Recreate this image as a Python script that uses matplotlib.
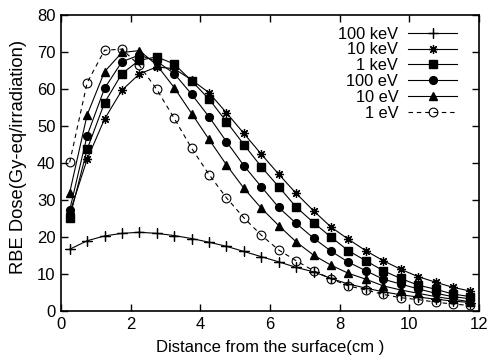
import numpy as np
import matplotlib
matplotlib.use("Agg")
import matplotlib.pyplot as plt

plt.rcParams['font.family'] = ['Liberation Sans', 'DejaVu Sans']

depth = np.arange(0.25, 12.0, 0.5)

kev100 = [16.7, 19.0, 20.3, 21.0, 21.3, 21.0, 20.4, 19.6, 18.6, 17.5, 16.1, 14.7,
          13.3, 11.8, 10.6, 8.8, 7.3, 6.2, 5.2, 4.4, 3.8, 3.2, 2.7, 2.3]
kev10 = [26.5, 41.0, 51.9, 59.7, 64.1, 66.0, 65.5, 62.5, 59.0, 53.6, 48.0, 42.4,
         37.0, 31.8, 27.1, 22.7, 19.4, 16.3, 13.6, 11.3, 9.3, 7.8, 6.4, 5.4]
kev1 = [25.2, 43.7, 56.3, 64.2, 67.8, 68.7, 66.8, 62.2, 57.3, 51.2, 45.0, 39.0,
        33.6, 28.1, 23.9, 20.0, 16.3, 13.6, 10.9, 8.8, 7.0, 5.9, 4.6, 3.9]
ev100 = [27.3, 47.4, 60.2, 67.4, 69.2, 67.5, 64.2, 58.6, 52.5, 45.8, 39.3, 33.6,
         28.0, 23.7, 19.7, 16.2, 13.2, 10.9, 8.6, 7.3, 6.0, 4.8, 3.9, 3.3]
ev10 = [32.0, 53.0, 64.7, 69.9, 70.4, 66.5, 60.4, 53.4, 46.4, 39.5, 33.2, 27.8,
        23.1, 18.7, 15.1, 12.4, 10.2, 8.6, 6.8, 5.7, 4.8, 3.9, 3.2, 2.5]
ev1 = [40.2, 61.7, 70.5, 70.8, 66.4, 59.9, 52.1, 44.0, 36.9, 30.6, 25.2, 20.5,
       16.5, 13.6, 10.9, 8.7, 6.8, 5.7, 4.5, 3.6, 3.1, 2.4, 1.9, 1.5]

fig = plt.figure(figsize=(4.89, 3.6), dpi=100)
ax = fig.add_axes([0.1247, 0.136, 0.855, 0.822])

lw = 0.8
ax.plot(depth, kev100, color='black', lw=lw, marker=(4, 2, 0), ms=6.5, mew=0.9, label='100 keV')
ax.plot(depth, kev10, color='black', lw=lw, marker=(8, 2, 0), ms=6.5, mew=0.9, label='10 keV')
ax.plot(depth, kev1, color='black', lw=lw, marker='s', ms=6, label='1 keV')
ax.plot(depth, ev100, color='black', lw=lw, marker='o', ms=5.6, label='100 eV')
ax.plot(depth, ev10, color='black', lw=lw, marker='^', ms=5.5, label='10 eV')
ax.plot(depth, ev1, color='black', lw=lw, ls=(0, (4, 3.5)), marker='o', ms=6.3,
        mfc='none', mew=0.8, label='1 eV')

ax.set_xlim(0, 12)
ax.set_ylim(0, 80)
ax.set_xticks(range(0, 13, 2))
ax.set_yticks(range(0, 81, 10))
ax.tick_params(direction='in', length=5, width=1, top=True, right=True,
               labelsize=12, colors='black', pad=4)
for s in ax.spines.values():
    s.set_linewidth(1.2)

ax.set_xlabel('Distance from the surface(cm )', fontsize=12, labelpad=6)
ax.set_ylabel('RBE Dose(Gy-eq/irradiation)', fontsize=13.2)
ax.yaxis.set_label_coords(-0.082, 0.52)

ax.legend(loc='upper right', frameon=False, markerfirst=False, fontsize=11.8,
          handlelength=3.0, handletextpad=0.6, labelspacing=0.05,
          borderaxespad=0.3, bbox_to_anchor=(0.975, 1.0))

fig.savefig('out.png', dpi=100)
